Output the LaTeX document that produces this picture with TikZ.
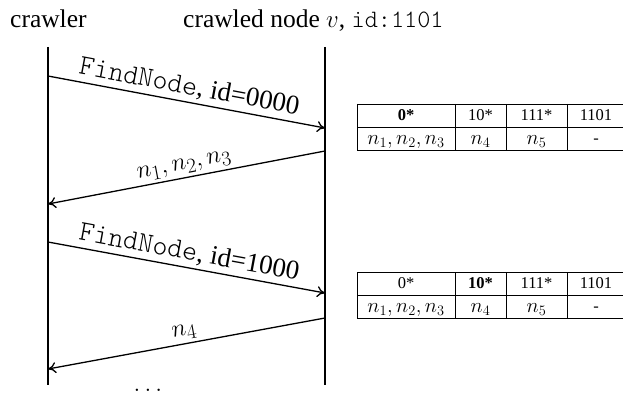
\documentclass[tikz,border=0pt]{standalone}
\usepackage{fontspec}
\newfontfamily\tnr{Liberation Serif}
\newfontfamily\lmtt{Latin Modern Mono Light}
\usetikzlibrary{arrows.meta}

\begin{document}
\begin{tikzpicture}[x=1pt,y=-1pt,
  lifeline/.style={line width=1.5pt},
  msg/.style={line width=1.3pt,-{To[length=8pt,width=11pt]}},
  title/.style={font=\fontsize{25.5}{30}\selectfont\tnr, anchor=base west, inner sep=0pt},
  msglabel/.style={font=\fontsize{27}{32}\selectfont\tnr, sloped, above, inner sep=3pt},
  mathlabel/.style={font=\fontsize{28.5}{34}\selectfont, sloped, above, inner sep=3pt},
  cell/.style={font=\fontsize{16.5}{20}\selectfont\tnr, inner sep=0pt, anchor=base},
  mcell/.style={font=\fontsize{21}{25}\selectfont, inner sep=0pt, anchor=base},
  grid/.style={line width=0.8pt}
]
\useasboundingbox (0,0) rectangle (623,395);

% column headings
\node[title] (crawler) at (10,28) {crawler};
\node[title] (crawled) at (183,28)
  {crawled node $v$, {\fontsize{25}{30}\selectfont\lmtt id:1101}};

% lifelines
\coordinate (aTop) at (48,47);  \coordinate (aBot) at (48,385);
\coordinate (bTop) at (325,47); \coordinate (bBot) at (325,385);
\draw[lifeline] (aTop) -- (aBot);
\draw[lifeline] (bTop) -- (bBot);

% message end points
\coordinate (m1s) at (48,76);   \coordinate (m1e) at (325,128);
\coordinate (m2s) at (325,151); \coordinate (m2e) at (48,204);
\coordinate (m3s) at (48,242);  \coordinate (m3e) at (325,293);
\coordinate (m4s) at (325,318); \coordinate (m4e) at (48,369);

\newcommand{\findnode}{{\fontsize{28.5}{32}\selectfont\lmtt FindNode},}
\draw[msg] (m1s) -- node[msglabel] (l1) {\findnode{} id=0000} (m1e);
\draw[msg] (m2s) -- node[mathlabel] (l2) {$n_1,n_2,n_3$} (m2e);
\draw[msg] (m3s) -- node[msglabel] (l3) {\findnode{} id=1000} (m3e);
\draw[msg] (m4s) -- node[mathlabel] (l4) {$n_4$} (m4e);

\node[font=\fontsize{30}{34}\selectfont, anchor=base, inner sep=0pt] (dots) at (148,391) {$\ldots$};

% routing tables
\newcommand{\routetable}[4]{%
  \begin{scope}[yshift=#1]
    \draw[grid] (357,0) -- (623,0);
    \draw[grid] (357,23) -- (623,23);
    \draw[grid] (357,46) -- (623,46);
    \draw[grid] (357,0) -- (357,46);
    \draw[grid] (455,0) -- (455,46);
    \draw[grid] (506,0) -- (506,46);
    \draw[grid] (567,0) -- (567,46);
    \node[cell] (#4h1) at (406,16.5) {#2};
    \node[cell] (#4h2) at (480.5,16.5) {#3};
    \node[cell] (#4h3) at (536.5,16.5) {111*};
    \node[cell] (#4h4) at (596,16.5) {1101};
    \node[mcell] (#4c1) at (406,40.5) {$n_1,n_2,n_3$};
    \node[mcell] (#4c2) at (480.5,40.5) {$n_4$};
    \node[mcell] (#4c3) at (536.5,40.5) {$n_5$};
    \node[cell] (#4c4) at (596,39.5) {-};
  \end{scope}}

\routetable{-104pt}{\textbf{0*}}{10*}{ta}
\routetable{-272pt}{0*}{\textbf{10*}}{tb}
\end{tikzpicture}
\end{document}
